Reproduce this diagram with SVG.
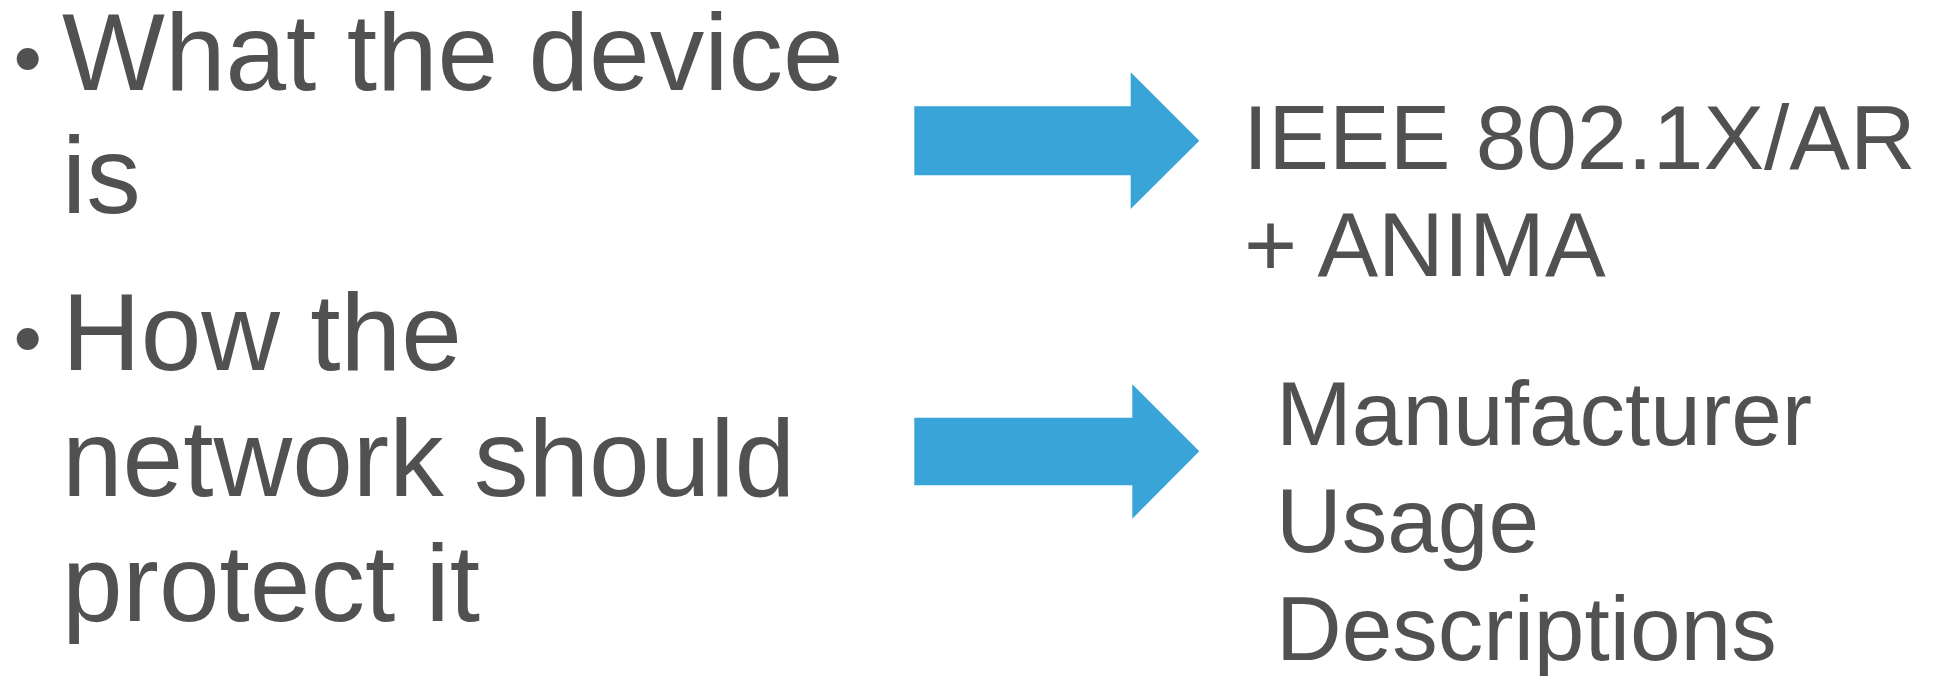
<svg xmlns="http://www.w3.org/2000/svg" width="1934" height="676" viewBox="0 0 1934 676">
<style>
.t{font-family:"Liberation Sans",Arial,sans-serif;fill:#515151}
.big{font-size:109px}
.mid{font-size:91px}
.arr{fill:#39A4D7}
</style>
<rect width="1934" height="676" fill="#fff"/>
<g id="bullet1">
<circle cx="27.7" cy="59" r="11" fill="#515151"/>
<text class="t big" x="62" y="90">What the device</text>
<text class="t big" x="62" y="212.5">is</text>
</g>
<g id="bullet2">
<circle cx="27.7" cy="339" r="11" fill="#515151"/>
<text class="t big" x="62" y="370">How the</text>
<text class="t big" x="62" y="495.5">network should</text>
<text class="t big" x="62" y="620.5">protect it</text>
</g>
<g id="target1">
<text class="t mid" x="1243" y="169.3">IEEE 802.1X/AR</text>
<text class="t mid" x="1244" y="276">+ ANIMA</text>
</g>
<g id="target2">
<text class="t mid" x="1276" y="445">Manufacturer</text>
<text class="t mid" x="1276" y="552">Usage</text>
<text class="t mid" x="1276" y="660">Descriptions</text>
</g>
<g id="connectors">
<polygon class="arr" points="914.3,106.3 1130.7,106.3 1130.7,72.3 1199.3,140.7 1130.7,209 1130.7,175.3 914.3,175.3"/>
<polygon class="arr" points="914.3,417.7 1132.3,417.7 1132.3,384.3 1199.3,451.3 1132.3,518.7 1132.3,485.3 914.3,485.3"/>
</g>
</svg>
